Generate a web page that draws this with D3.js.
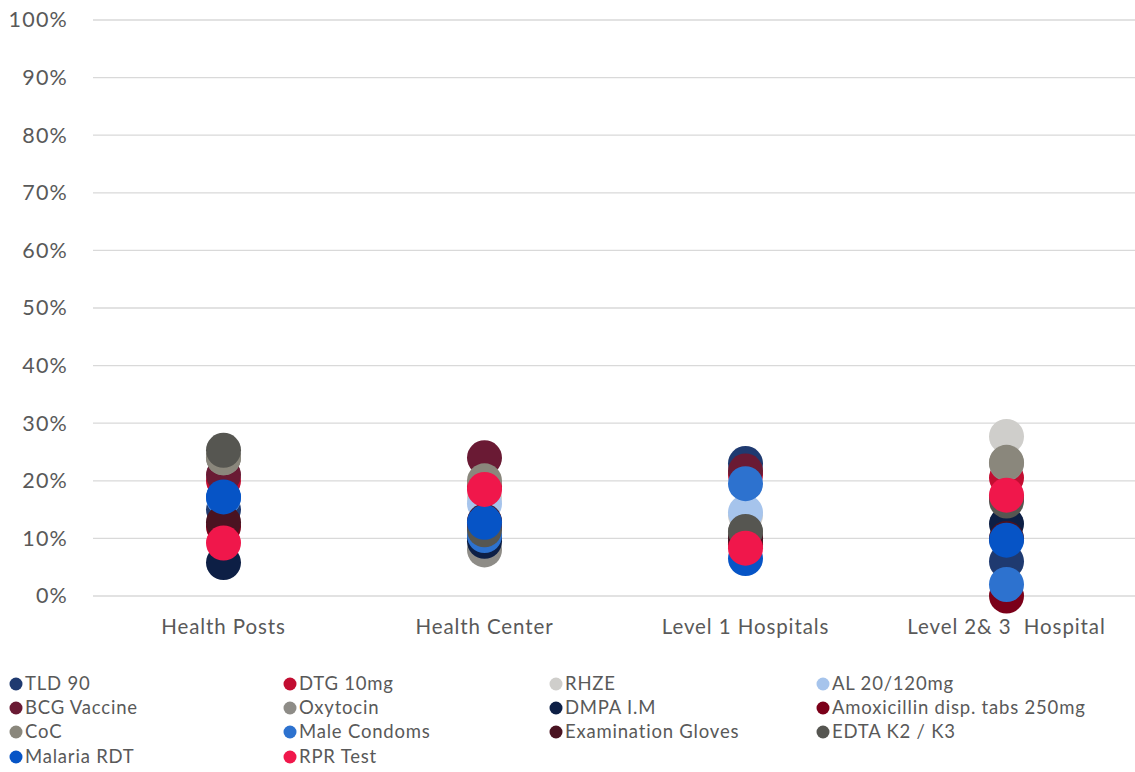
<!DOCTYPE html>
<html>
<head>
<meta charset="utf-8">
<script src="https://cdn.jsdelivr.net/npm/d3@7"></script>
<style>
  html, body { margin: 0; padding: 0; background: #fff; }
  svg { display: block; font-family: "Lato", "Open Sans", sans-serif; }
  text { white-space: pre; }
</style>
</head>
<body>
<svg id="chart" width="1135" height="772"></svg>
<script>
// Facility levels along the x axis
const categories = ["Health Posts", "Health Center", "Level 1 Hospitals", "Level 2& 3  Hospital"];

// Commodity series (legend order = drawing order)
const seriesNames = [
  "TLD 90", "DTG 10mg", "RHZE", "AL 20/120mg",
  "BCG Vaccine", "Oxytocin", "DMPA I.M", "Amoxicillin disp. tabs 250mg",
  "CoC", "Male Condoms", "Examination Gloves", "EDTA K2 / K3",
  "Malaria RDT", "RPR Test"
];
const seriesColors = [
  "#1f3a70", "#c20d31", "#cfcecb", "#a6c4ec",
  "#6a1a34", "#8e8c87", "#0d1f45", "#7b0019",
  "#8a877c", "#2d72cf", "#4a1321", "#565651",
  "#0654c6", "#f0174b"
];

// Share per facility level (Health Posts, Health Center, Level 1, Level 2&3)
const tld90        = [0.150, 0.100, 0.230, 0.060];
const dtg10        = [0.200, 0.190, 0.210, 0.205];
const rhze         = [0.240, 0.170, 0.140, 0.277];
const al20         = [0.170, 0.160, 0.145, 0.100];
const bcg          = [0.210, 0.240, 0.217, 0.170];
const oxytocin     = [0.240, 0.080, 0.110, 0.230];
const dmpa         = [0.058, 0.095, 0.100, 0.125];
const amoxicillin  = [0.120, 0.120, 0.090, 0.000];
const coc          = [0.240, 0.200, 0.110, 0.232];
const maleCondoms  = [0.170, 0.105, 0.195, 0.020];
const gloves       = [0.128, 0.130, 0.100, 0.100];
const edta         = [0.253, 0.115, 0.112, 0.165];
const malariaRdt   = [0.172, 0.128, 0.065, 0.097];
const rprTest      = [0.092, 0.185, 0.083, 0.175];

const seriesValues = [
  tld90, dtg10, rhze, al20,
  bcg, oxytocin, dmpa, amoxicillin,
  coc, maleCondoms, gloves, edta,
  malariaRdt, rprTest
];

// Y axis tick values
const yTicks = [0, 0.1, 0.2, 0.3, 0.4, 0.5, 0.6, 0.7, 0.8, 0.9, 1.0];

const svg = d3.select("#chart");
const textColor = "#595959";

const x = d3.scaleBand().domain(categories).range([93, 1137]);
const y = d3.scaleLinear().domain([0, 1]).range([596, 20]);

// Horizontal gridlines
svg.append("g")
  .selectAll("line")
  .data(yTicks)
  .join("line")
  .attr("x1", 93).attr("x2", 1135)
  .attr("y1", d => y(d)).attr("y2", d => y(d))
  .attr("stroke", "#d9d9d9")
  .attr("stroke-width", 1.3);

// Y axis labels
const yAxis = d3.axisLeft(y)
  .tickValues(yTicks)
  .tickFormat(d3.format(".0%"))
  .tickSize(0)
  .tickPadding(0);
const yG = svg.append("g").attr("transform", "translate(68,0)").call(yAxis);
yG.select(".domain").remove();
yG.selectAll("text")
  .attr("fill", textColor)
  .attr("font-size", 21.5)
  .attr("letter-spacing", 1.2)
  .attr("font-family", "Lato, 'Open Sans', sans-serif");

// X axis labels
const xAxis = d3.axisBottom(x).tickSize(0).tickPadding(0);
const xG = svg.append("g").attr("transform", "translate(0,619)").call(xAxis);
xG.select(".domain").remove();
xG.selectAll("text")
  .attr("fill", textColor)
  .attr("font-size", 20.5)
  .attr("letter-spacing", 0.9)
  .attr("font-family", "Lato, 'Open Sans', sans-serif");

// Dots, one group per series
const r = 17.5;
const dots = svg.append("g");
seriesNames.forEach((name, i) => {
  dots.append("g")
    .selectAll("circle")
    .data(seriesValues[i].map((v, j) => ({ cat: categories[j], v })))
    .join("circle")
    .attr("cx", d => x(d.cat) + x.bandwidth() / 2)
    .attr("cy", d => y(d.v))
    .attr("r", r)
    .attr("fill", seriesColors[i]);
});

// Legend: 4 columns
const legendCols = [16, 290, 556, 823];
const legendRows = [684, 708, 732, 757];
const legend = svg.append("g");
seriesNames.forEach((name, i) => {
  const cx = legendCols[i % 4];
  const cy = legendRows[Math.floor(i / 4)];
  legend.append("circle")
    .attr("cx", cx).attr("cy", cy).attr("r", 6.5)
    .attr("fill", seriesColors[i]);
  legend.append("text")
    .attr("x", cx + 9).attr("y", cy)
    .attr("dy", "0.35em")
    .attr("fill", textColor)
    .attr("font-size", 18.5)
    .attr("letter-spacing", 0.8)
    .text(name);
});
</script>
</body>
</html>
